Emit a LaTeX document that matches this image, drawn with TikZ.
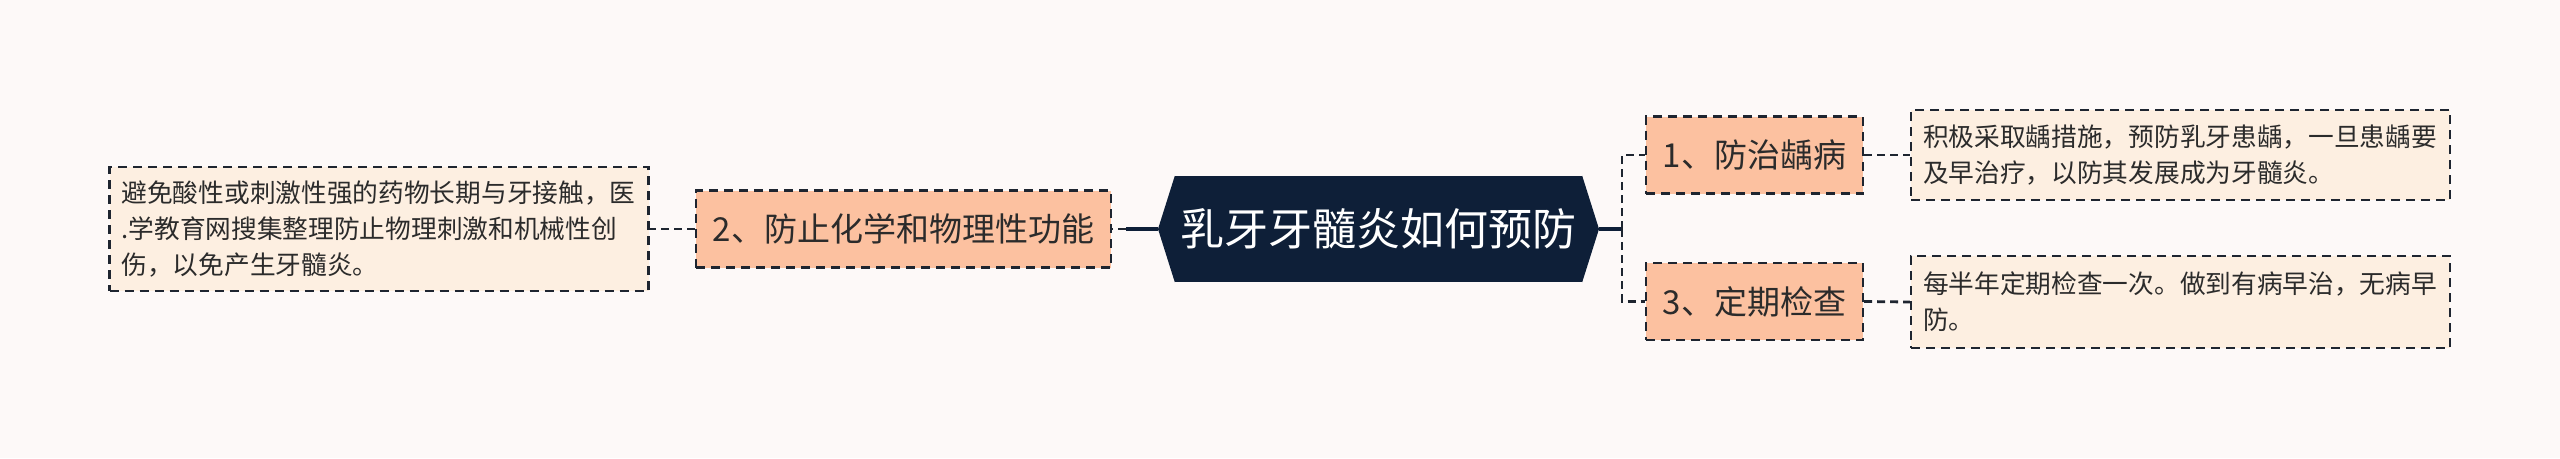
\documentclass[tikz,border=0pt]{standalone}
\usepackage{fontspec}
\setmainfont{Noto Sans CJK SC}
\usepackage{xcolor}
\definecolor{navy}{HTML}{0E1F38}
\definecolor{peach}{HTML}{FCC1A0}
\definecolor{cream}{HTML}{FDEFE1}
\definecolor{ink}{HTML}{2B2B2B}
\definecolor{dash-ink}{HTML}{1E2530}
\definecolor{paper}{HTML}{FDF9F8}
\tikzset{
    main-topic/.style = {fill=navy, text=white, rectangle, inner sep=0pt, minimum width=407pt, minimum height=106pt, font=\fontsize{44}{52}\selectfont},
    sub-topic/.style = {draw=dash-ink, fill=peach, text=ink, line width=2.2pt, dash pattern=on 9pt off 6pt, rectangle, inner sep=0pt, minimum height=77pt, font=\fontsize{33}{38}\selectfont},
    detail-box/.style = {draw=dash-ink, fill=cream, text=ink, line width=2.2pt, dash pattern=on 9pt off 6pt, rectangle, inner xsep=12pt, inner ysep=0pt, text width=515pt, align=left, font=\fontsize{25.7}{36}\selectfont},
    trunk-line/.style = {draw=navy, line width=4pt},
    branch-line/.style = {draw=dash-ink, line width=2.8pt, dash pattern=on 8pt off 5pt},
}
\begin{document}
\begin{tikzpicture}[x=1pt, y=1pt]
\path[use as bounding box, fill=paper] (0,0) rectangle (2560,-458);

\node[main-topic] (main) at (1378.5,-229) {乳牙牙髓炎如何预防};
\coordinate (main-left) at (1158,-229);
\coordinate (main-right) at (1599,-229);
\fill[navy] (main.north west) -- (main-left) -- (main.south west) -- cycle;
\fill[navy] (main.north east) -- (main-right) -- (main.south east) -- cycle;

\node[sub-topic, minimum width=415pt] (topic2) at (903.5,-229) {2、防止化学和物理性功能};
\node[sub-topic, minimum width=217pt] (topic1) at (1754.5,-155) {1、防治龋病};
\node[sub-topic, minimum width=217pt] (topic3) at (1754.5,-301.5) {3、定期检查};

\node[detail-box, minimum height=124pt] (detail2) at (379,-229) {避免酸性或刺激性强的药物长期与牙接触，医\\.学教育网搜集整理防止物理刺激和机械性创\\伤，以免产生牙髓炎。};
\node[detail-box, minimum height=90pt] (detail1) at (2180.5,-155) {积极采取龋措施，预防乳牙患龋，一旦患龋要\\及早治疗，以防其发展成为牙髓炎。};
\node[detail-box, minimum height=92pt] (detail3) at (2180.5,-302) {每半年定期检查一次。做到有病早治，无病早\\防。};

\draw[trunk-line] (main-left) -- ++(-32,0) coordinate (left-joint);
\draw[branch-line] (left-joint) -- (topic2.east);
\draw[branch-line] (topic2.west) -- (detail2.east);

\draw[trunk-line] (main-right) -- ++(23,0) coordinate (right-joint);
\draw[branch-line] (right-joint) |- (topic1.west);
\draw[branch-line] (right-joint) |- (topic3.west);
\draw[branch-line] (topic1.east) -- (detail1.west);
\draw[branch-line] (topic3.east) -- (detail3.west);
\end{tikzpicture}
\end{document}
